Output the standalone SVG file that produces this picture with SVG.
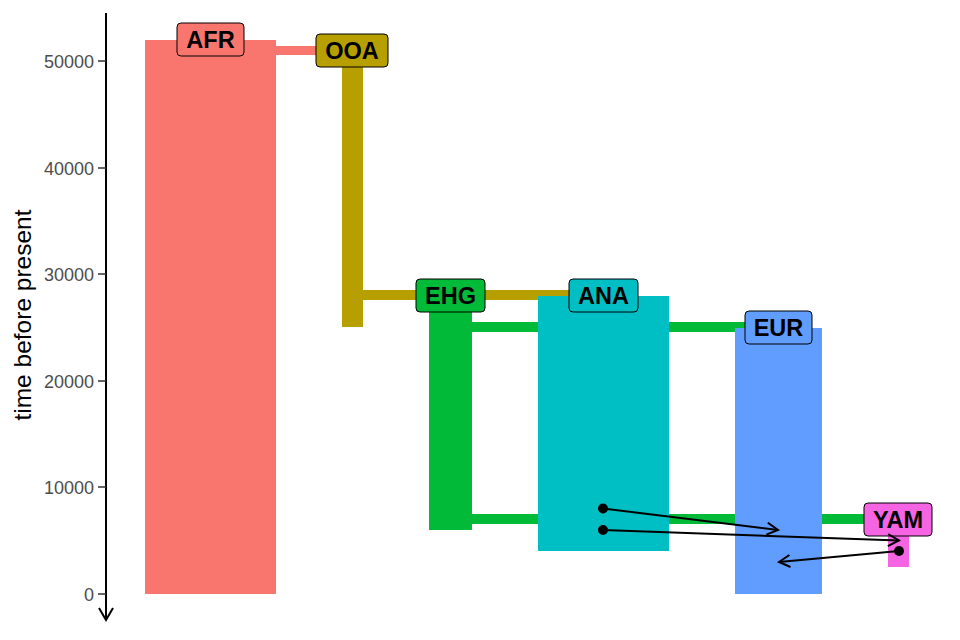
<svg xmlns="http://www.w3.org/2000/svg" width="960" height="640" viewBox="0 0 960 640">
<style>
.tick{font-family:"Liberation Sans",Arial,sans-serif;font-size:18px;fill:#4d4d4d;text-anchor:end}
.lab rect{stroke:#000;stroke-width:1}
.lab text{font-family:"Liberation Sans",Arial,sans-serif;font-size:23.5px;font-weight:bold;fill:#000;text-anchor:middle}
.arr{stroke:#000;stroke-width:2;fill:none}
</style>
<defs>
<marker id="head" markerWidth="14" markerHeight="14" refX="12" refY="7" orient="auto" markerUnits="userSpaceOnUse">
<path d="M1,1 L12,7 L1,13" fill="none" stroke="#000" stroke-width="2"/>
</marker>
</defs>
<rect width="960" height="640" fill="#fff"/>
<g id="axis">
<line x1="106" y1="13" x2="106" y2="620" stroke="#000" stroke-width="2"/>
<path d="M99,608 L106,620 L113,608" fill="none" stroke="#000" stroke-width="2"/>
<g stroke="#333" stroke-width="1.5">
<line x1="98" y1="594" x2="106" y2="594"/>
<line x1="98" y1="487" x2="106" y2="487"/>
<line x1="98" y1="381" x2="106" y2="381"/>
<line x1="98" y1="274" x2="106" y2="274"/>
<line x1="98" y1="168" x2="106" y2="168"/>
<line x1="98" y1="61" x2="106" y2="61"/>
</g>
<text class="tick" x="94" y="600.5">0</text>
<text class="tick" x="94" y="493.5">10000</text>
<text class="tick" x="94" y="387.5">20000</text>
<text class="tick" x="94" y="280.5">30000</text>
<text class="tick" x="94" y="174.5">40000</text>
<text class="tick" x="94" y="67.5">50000</text>
<text transform="translate(31,315) rotate(-90)" font-family="Liberation Sans,Arial,sans-serif" font-size="24.5" text-anchor="middle" fill="#000">time before present</text>
</g>
<g id="connectors">
<rect x="276" y="46" width="66" height="9" fill="#F8766D"/>
<rect x="363" y="290" width="240" height="10" fill="#B79F00"/>
<rect x="472" y="322" width="306" height="10" fill="#00BA38"/>
<rect x="472" y="514" width="426" height="10" fill="#00BA38"/>
</g>
<g id="AFR">
<rect x="145" y="40" width="131" height="554" fill="#F8766D"/>
</g>
<g id="OOA">
<rect x="342" y="50" width="21" height="277" fill="#B79F00"/>
</g>
<g id="EHG">
<rect x="429" y="295" width="43" height="235" fill="#00BA38"/>
</g>
<g id="ANA">
<rect x="538" y="296" width="131" height="255" fill="#00BFC4"/>
</g>
<g id="EUR">
<rect x="735" y="328" width="87" height="266" fill="#619CFF"/>
</g>
<g id="YAM">
<rect x="888" y="519" width="21" height="48" fill="#F564E3"/>
</g>
<g id="labels">
<g class="lab" id="AFR-label"><rect x="177" y="23" width="67" height="33" rx="4" fill="#F8766D"/><text x="210.5" y="48">AFR</text></g>
<g class="lab" id="OOA-label"><rect x="316" y="34" width="72" height="33" rx="4" fill="#B79F00"/><text x="352" y="59">OOA</text></g>
<g class="lab" id="EHG-label"><rect x="416" y="279" width="69" height="33" rx="4" fill="#00BA38"/><text x="450.5" y="304">EHG</text></g>
<g class="lab" id="ANA-label"><rect x="569" y="279" width="69" height="33" rx="4" fill="#00BFC4"/><text x="603.5" y="304">ANA</text></g>
<g class="lab" id="EUR-label"><rect x="745" y="311" width="67" height="33" rx="4" fill="#619CFF"/><text x="778.5" y="336">EUR</text></g>
<g class="lab" id="YAM-label"><rect x="864" y="503" width="68" height="33" rx="4" fill="#F564E3"/><text x="898" y="528">YAM</text></g>
</g>
<g id="admixture">
<line class="arr" x1="603" y1="508.5" x2="778" y2="530" marker-end="url(#head)"/>
<line class="arr" x1="603" y1="530" x2="899" y2="540.5" marker-end="url(#head)"/>
<line class="arr" x1="899" y1="551" x2="779" y2="562" marker-end="url(#head)"/>
<circle cx="603" cy="508.5" r="5" fill="#000"/>
<circle cx="603" cy="530" r="5" fill="#000"/>
<circle cx="899" cy="551" r="5" fill="#000"/>
</g>
</svg>
